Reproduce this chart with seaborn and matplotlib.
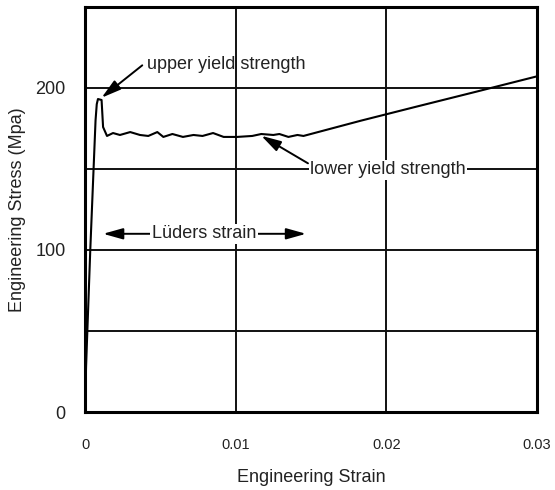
import matplotlib
matplotlib.use("Agg")
import matplotlib.pyplot as plt
import seaborn as sns
import pandas as pd

# ---- data ----
strain = [0.0, 0.00007, 0.00035, 0.0007, 0.00078, 0.00086, 0.0011, 0.0012, 0.00146,
          0.00186, 0.00232, 0.0030, 0.00365, 0.0042, 0.0048, 0.0052, 0.0058, 0.0065,
          0.0072, 0.0078, 0.0085, 0.0092, 0.0101, 0.0111, 0.0117, 0.0125, 0.0129,
          0.0135, 0.0141, 0.0145, 0.0183, 0.022, 0.026, 0.030]
stress = [0.0, 28.0, 100.0, 180.0, 190.0, 193.2, 192.6, 175.9, 170.4,
          172.2, 171.0, 172.8, 171.0, 170.4, 172.8, 169.8, 171.6, 169.8,
          171.0, 170.4, 172.2, 169.8, 169.8, 170.4, 171.6, 171.0, 171.6,
          169.8, 171.0, 170.4, 179.8, 188.5, 197.8, 207.2]
x_ticks = [0, 0.01, 0.02, 0.03]
x_tick_labels = ["0", "0.01", "0.02", "0.03"]
y_ticks = [0, 100, 200]
y_tick_labels = ["0", "100", "200"]
y_grid = [50, 100, 150, 200]
x_grid = [0.01, 0.02]

df = pd.DataFrame({"strain": strain, "stress": stress})

sns.set_theme(style="white")
plt.rcParams["font.family"] = ["Liberation Sans", "DejaVu Sans"]

fig = plt.figure(figsize=(5.55, 4.90), dpi=100)
ax = fig.add_axes([85 / 555, 1 - 412 / 490, (537 - 85) / 555, (412 - 7) / 490])

# grid lines
for g in y_grid:
    ax.axhline(g, color="#111111", lw=1.4, zorder=1)
for g in x_grid:
    ax.axvline(g, color="#111111", lw=1.4, zorder=1)

sns.lineplot(data=df, x="strain", y="stress", sort=False, estimator=None,
             color="black", lw=1.5, ax=ax, zorder=3)

ax.set_xlim(0, 0.03)
ax.set_ylim(0, 250)
ax.set_xticks(x_ticks)
ax.set_xticklabels(x_tick_labels, fontsize=10.5)
ax.set_yticks(y_ticks)
ax.set_yticklabels(y_tick_labels, fontsize=13)
ax.tick_params(axis="x", length=0, pad=19, colors="#222222")
ax.tick_params(axis="y", length=0, pad=14, colors="#222222")
ax.set_xlabel("Engineering Strain", fontsize=13, labelpad=12, color="#222222")
ax.set_ylabel("Engineering Stress (Mpa)", fontsize=13, labelpad=7, color="#222222")
for s in ax.spines.values():
    s.set_color("black")
    s.set_linewidth(2.2)
    s.set_visible(True)

arrow_kw = dict(arrowstyle="-|>,head_length=1.0,head_width=0.28", color="black",
                lw=1.4, shrinkA=0, shrinkB=0)

# upper yield strength
ax.annotate("", xy=(0.0011, 194), xytext=(0.0038, 214), arrowprops=arrow_kw, zorder=5)
ax.text(0.0041, 214.5, "upper yield strength", fontsize=13, ha="left", va="center",
        color="#222222", zorder=6)

# lower yield strength
ax.annotate("", xy=(0.0117, 170.5), xytext=(0.0148, 153.5), arrowprops=arrow_kw, zorder=5)
ax.text(0.01495, 149.5, "lower yield strength", fontsize=13, ha="left", va="center",
        color="#222222", zorder=6,
        bbox=dict(facecolor="white", edgecolor="none", pad=1.0))

# Luders strain
ax.annotate("", xy=(0.0012, 110), xytext=(0.0079, 110), arrowprops=arrow_kw, zorder=5)
ax.annotate("", xy=(0.01467, 110), xytext=(0.0079, 110), arrowprops=arrow_kw, zorder=5)
ax.text(0.0079, 110, "Lüders strain", fontsize=13, ha="center", va="center",
        color="#222222", zorder=6,
        bbox=dict(facecolor="white", edgecolor="none", pad=1.0))

fig.savefig("out.png", dpi=100)
